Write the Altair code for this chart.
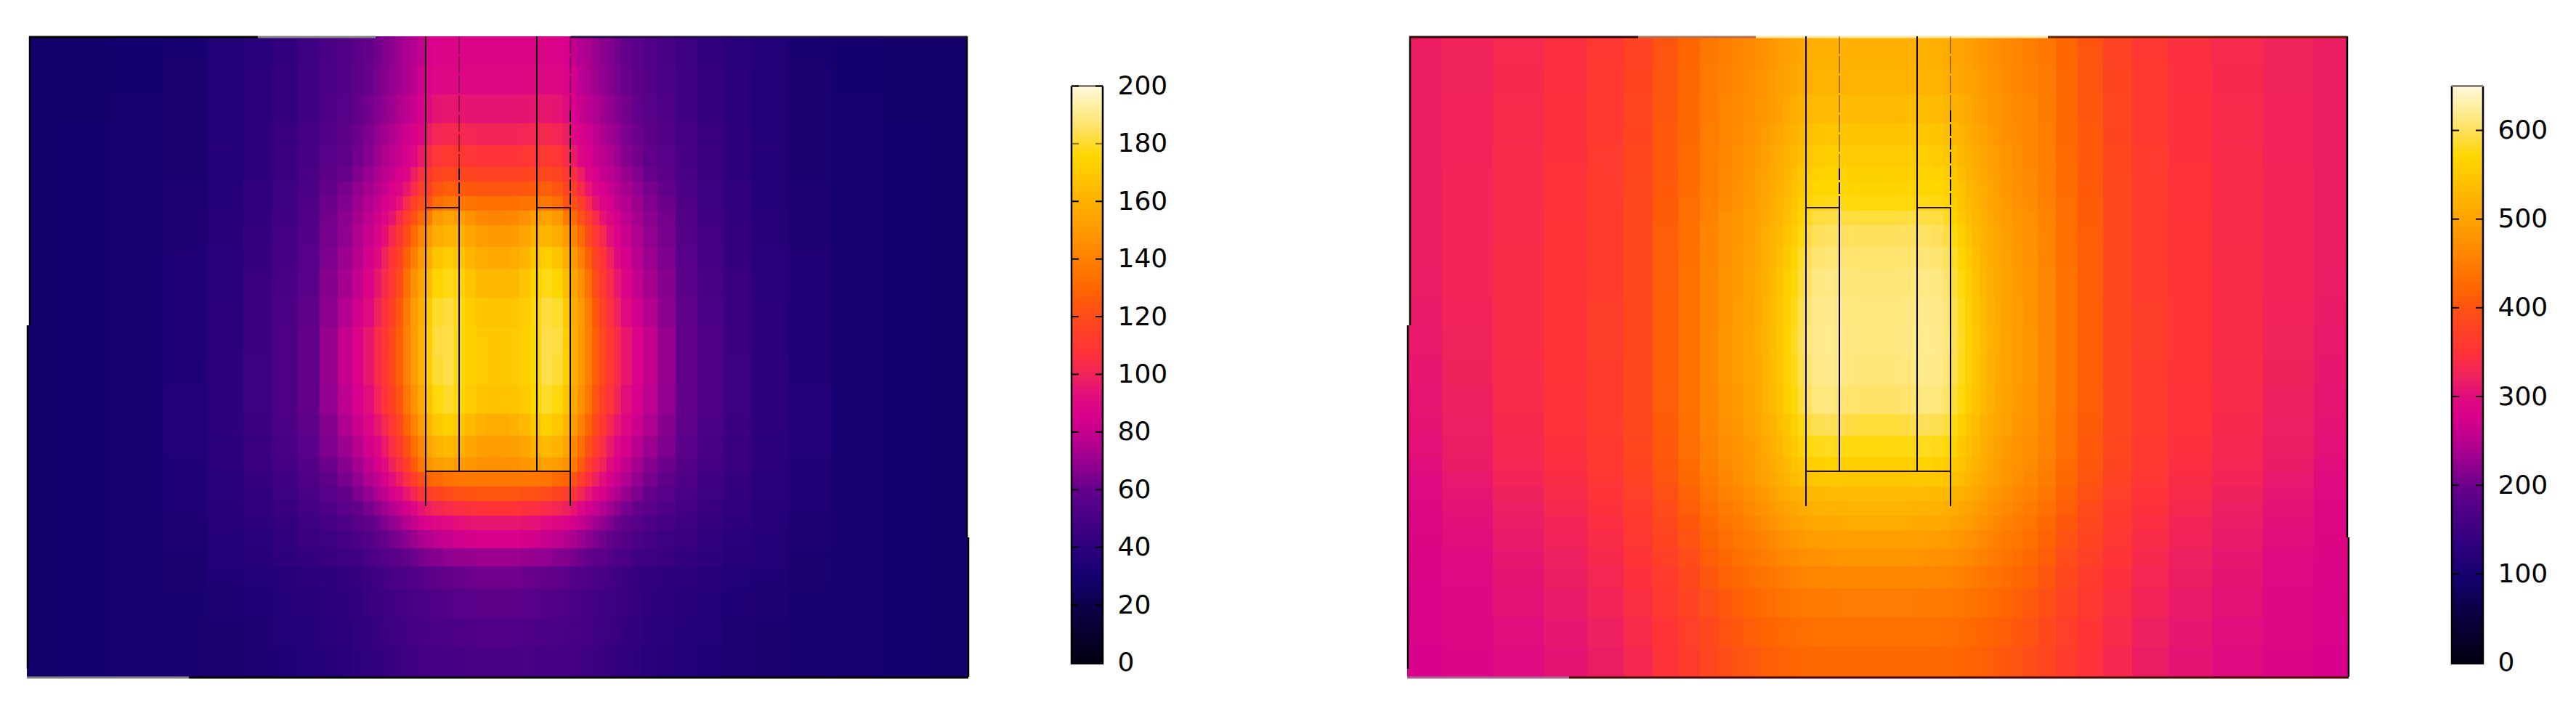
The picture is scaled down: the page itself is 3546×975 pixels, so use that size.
import altair as alt
import pandas as pd

# Half-grid read from the (left/right symmetric) picture: distance from the centre axis, depth from top
OFFSET_EDGES = [0,15,30,45,60,75,90,100,110,120,130,140,150,160,170,185,200,220,245,275,310,350,400,460,530,600,648]
DEPTH_EDGES = [0,40,80,120,150,180,200,220,240,260,290,320,360,400,440,480,520,550,580,600,620,640,660,680,705,730,760,800,840,882]

HEAT_LEFT = [
[88,88,88,88,88,87,85,80,76,74,71,68,66,63,60,57,54,51,47,43,39,36,32,30,29,29],
[90,90,90,90,90,89,87,83,78,75,72,69,67,64,61,58,55,52,48,44,40,36,33,30,29,29],
[95,95,95,96,96,95,92,85,81,78,75,72,69,66,63,60,56,53,48,44,40,36,33,31,29,29],
[101,101,102,103,103,102,98,90,86,83,79,75,72,69,65,62,58,54,49,45,41,36,33,31,30,29],
[108,108,109,110,111,109,104,97,90,85,81,78,75,71,67,63,59,56,50,46,41,37,33,31,30,29],
[116,116,117,118,119,117,110,106,98,90,85,81,78,74,70,66,61,58,51,46,41,37,33,31,30,29],
[124,124,125,126,127,124,116,114,104,96,89,85,81,77,73,69,64,60,52,47,42,37,34,31,30,29],
[134,134,135,136,137,133,122,122,114,104,95,89,85,80,76,71,66,62,53,47,42,37,34,31,30,29],
[142,143,146,152,154,150,138,132,122,113,104,95,89,84,78,73,68,63,54,48,43,38,34,31,30,29],
[150,151,155,160,162,158,150,142,132,120,110,103,94,87,81,75,69,64,55,49,44,38,34,31,30,29],
[157,158,162,168,172,168,158,150,140,128,116,108,100,92,84,77,71,65,56,50,44,39,35,32,30,29],
[163,164,168,174,178,175,165,155,146,134,120,111,104,96,88,80,73,67,57,51,45,39,35,32,30,29],
[168,169,172,177,182,180,170,159,150,138,125,115,107,100,92,83,76,68,59,52,46,40,35,32,30,29],
[170,171,173,177,183,182,172,160,150,140,128,118,110,104,96,87,80,70,60,53,46,40,35,32,30,29],
[170,171,173,177,183,181,172,160,150,140,128,118,111,104,96,87,80,70,60,53,47,41,35,32,30,29],
[167,168,171,176,180,177,168,157,147,136,124,115,108,101,93,85,78,69,60,53,47,41,36,32,30,29],
[158,160,164,169,173,170,162,151,141,130,119,110,103,96,89,82,75,67,59,52,46,41,36,32,30,29],
[151,152,155,160,164,161,154,143,133,122,112,105,97,90,84,77,71,65,57,51,45,40,36,32,30,29],
[146,146,148,151,153,151,146,137,126,115,106,100,92,86,79,73,67,62,55,50,45,40,35,32,30,29],
[137,137,137,136,135,132,129,122,114,106,99,93,86,80,75,69,64,59,53,48,44,39,35,32,30,29],
[124,124,123,122,120,117,113,108,102,96,90,85,79,75,70,65,60,56,51,47,43,39,35,32,30,29],
[108,108,107,106,104,102,99,95,89,84,80,76,72,68,64,60,57,53,49,45,42,38,35,32,30,29],
[96,96,95,94,92,90,87,84,80,76,72,69,66,62,59,56,53,50,47,44,41,38,34,32,30,29],
[85,85,84,83,81,79,76,74,71,68,65,63,60,58,55,52,50,47,45,42,39,37,34,32,30,29],
[71,71,70,70,69,67,66,64,62,60,58,57,55,53,51,48,47,45,43,41,38,36,33,31,30,29],
[63,63,62,61,60,59,57,55,54,53,52,51,49,48,46,44,43,41,40,38,36,35,33,31,30,29],
[58,58,57,56,55,54,53,52,51,50,49,48,47,46,45,43,41,40,38,37,35,34,32,31,30,29],
[54,54,53,53,52,52,51,50,50,49,48,47,46,45,43,42,40,39,37,36,34,33,32,31,30,29],
[51,51,51,50,50,50,49,49,48,47,46,45,44,43,42,41,39,38,36,35,34,33,32,31,30,29],
]

HEAT_RIGHT = [
[520,520,520,520,520,518,512,506,501,495,489,482,476,471,466,460,455,444,422,402,378,358,345,335,326,320],
[524,524,524,524,524,522,516,511,506,500,494,487,480,475,469,463,458,447,424,404,380,360,346,336,326,320],
[534,534,535,536,536,534,528,522,515,508,500,492,485,479,473,466,460,449,426,405,381,361,347,337,327,320],
[545,545,546,548,548,546,540,533,524,515,506,498,491,483,476,469,462,451,428,407,382,362,348,337,327,320],
[555,555,556,558,558,556,550,541,531,521,512,503,495,487,479,471,464,452,429,408,383,363,348,338,327,320],
[562,562,563,565,566,564,558,548,537,527,517,508,499,491,482,474,466,454,430,409,384,364,349,338,328,320],
[568,568,569,571,572,570,564,553,542,531,521,512,503,494,485,476,468,455,431,410,385,365,350,339,328,320],
[575,575,576,578,579,577,570,558,546,535,525,515,506,496,488,478,470,456,432,411,386,365,350,339,328,320],
[590,590,591,593,593,592,582,566,552,540,528,518,508,499,491,482,475,459,433,411,386,366,351,339,328,320],
[600,600,601,602,603,600,592,576,560,546,533,522,512,502,493,484,476,460,434,412,387,366,351,339,328,320],
[606,606,607,608,610,608,600,585,568,553,539,527,516,506,496,486,478,461,435,413,387,367,351,340,328,319],
[610,610,611,613,616,614,606,592,575,559,544,531,519,508,498,488,479,462,436,413,388,367,352,340,328,318],
[613,613,614,616,619,618,610,597,580,563,548,534,522,511,500,490,480,463,437,414,388,368,352,340,327,316],
[613,613,615,617,620,619,612,599,582,565,550,536,523,512,501,491,481,463,437,414,388,368,352,340,326,314],
[611,611,613,616,619,617,610,597,580,564,549,535,522,511,501,491,481,463,437,414,388,367,351,339,325,312],
[604,604,606,610,614,612,604,591,575,560,545,532,520,509,499,489,480,462,436,413,387,366,350,338,323,310],
[590,590,592,596,599,597,590,578,563,549,536,524,514,504,495,485,477,460,434,411,385,364,349,336,321,308],
[576,576,577,579,581,579,574,565,553,541,529,518,508,498,489,480,472,457,432,409,383,362,347,334,319,305],
[562,562,563,564,565,563,559,552,543,533,523,513,503,494,485,477,469,454,429,406,380,359,344,331,316,302],
[551,551,551,552,552,550,547,541,534,526,517,507,498,490,481,473,464,450,425,402,376,356,341,328,313,299],
[536,536,536,536,535,533,530,524,518,512,505,497,489,482,473,465,456,442,418,396,371,351,337,324,310,296],
[525,525,525,524,523,521,517,512,507,501,494,487,480,473,466,458,449,435,412,390,367,348,334,321,307,293],
[512,512,512,511,510,508,505,500,495,490,484,477,471,464,458,450,441,428,406,385,362,344,330,318,304,291],
[497,497,496,495,494,492,490,486,482,478,472,466,460,455,449,442,433,420,399,379,357,340,327,315,302,289],
[483,483,482,481,480,478,476,473,470,466,461,456,451,446,441,434,425,412,392,373,352,336,323,312,299,287],
[465,465,465,464,463,461,460,458,456,452,448,444,440,436,431,425,417,404,385,367,348,332,320,309,297,285],
[451,451,451,450,449,448,447,445,443,440,437,433,430,426,422,416,408,396,378,361,343,328,316,306,294,283],
[438,438,438,437,437,436,435,433,431,429,426,423,420,416,412,406,399,388,371,355,338,323,312,302,291,281],
[428,428,428,428,427,426,425,424,422,420,418,415,412,409,405,400,393,383,366,350,334,319,308,298,288,279],
]

# Colour map: stops on the 0-200 bar, the right bar is the same ramp stretched to 0-650
CMAP_STOPS = [0,20,30,40,60,75,85,92,100,108,120,130,140,150,160,176,185,192,200]
CMAP_COLORS = ["#000010","#0c0048","#15006f","#2a007c","#62008c","#b00090","#d8008c","#e00a80","#f0225c","#ff3338",
               "#ff4a1a","#ff6600","#ff8000","#ff9a00","#ffb000","#ffd700","#ffe060","#ffee9a","#fff8dc"]
LEFT_MAX, RIGHT_MAX = 200, 650
LEFT_TICKS = [0,20,40,60,80,100,120,140,160,180,200]
RIGHT_TICKS = [0,100,200,300,400,500,600]

# Cell outlines: (x, y0, y1) vertical, (y, x0, x1) horizontal
CELL_SOLID_V = [(-99,0,647),(54,0,599),(-53,236,599),(100,236,647)]
CELL_DASH_V = [(-53,182,236),(100,102,236)]
CELL_FAINT_V = [(-53,0,182),(100,0,102)]
CELL_H = [(236,-99,-53),(236,54,100),(599,-99,100)]
FRAME_V = [(-644,0,398),(-647,398,871),(646,0,690),(648,690,882)]
WHITE_V = [(-646.5,0,398,3),(647.5,0,690,2)]
FRAME_H_LEFT = [(1,-645,-330,"#000000"),(1,-330,-168,"#808080"),(1,101,646,"#201040"),
                (883,-648,-425,"#808080"),(883,-425,648,"#000000")]
FRAME_H_RIGHT = [(1,-645,-330,"#300000"),(1,-330,-168,"#b87050"),(1,-168,234,"#ffe8a0"),(1,234,646,"#602000"),
                 (883,-648,-425,"#b06090"),(883,-425,648,"#500000")]


def heat_panel(grid, color_domain, frame_h):
    assert len(grid) == len(DEPTH_EDGES) - 1
    rows = []
    for i, row in enumerate(grid):
        assert len(row) == len(OFFSET_EDGES) - 1
        for j, v in enumerate(row):
            a, b = OFFSET_EDGES[j], OFFSET_EDGES[j + 1]
            for x0, x1 in ((a, b), (-b, -a)):
                rows.append(dict(x0=x0, x1=x1, y0=DEPTH_EDGES[i], y1=DEPTH_EDGES[i + 1], v=v))
    xs = alt.Scale(domain=[-648, 648], nice=False, zero=False)
    ys = alt.Scale(domain=[884, 0], nice=False, zero=False)
    X = lambda f: alt.X(f, type="quantitative", scale=xs, axis=None)
    Y = lambda f: alt.Y(f, type="quantitative", scale=ys, axis=None)

    heat = alt.Chart(pd.DataFrame(rows)).mark_rect(strokeWidth=0).encode(
        x=X("x0"), x2="x1", y=Y("y0"), y2="y1",
        color=alt.Color("v:Q", legend=None,
                        scale=alt.Scale(domain=color_domain, range=CMAP_COLORS, interpolate="rgb", clamp=True)),
    )

    def vrule(segs, **kw):
        df = pd.DataFrame(segs, columns=["x", "a", "b"])
        return alt.Chart(df).mark_rule(**kw).encode(x=X("x"), y=Y("a"), y2="b")

    white = alt.Chart(pd.DataFrame(WHITE_V, columns=["x", "a", "b", "w"])).mark_rule(color="white").encode(
        x=X("x"), y=Y("a"), y2="b", strokeWidth=alt.StrokeWidth("w:Q", scale=None))
    frame_v = vrule(FRAME_V, color="black", strokeWidth=2.5)
    frame_top = alt.Chart(pd.DataFrame(frame_h, columns=["y", "a", "b", "c"])).mark_rule(strokeWidth=3).encode(
        y=Y("y"), x=X("a"), x2="b", color=alt.Color("c:N", scale=None))
    solid = vrule(CELL_SOLID_V, color="black", strokeWidth=2)
    dash = vrule(CELL_DASH_V, color="black", strokeWidth=2, strokeDash=[16, 3])
    faint = vrule(CELL_FAINT_V, color="black", strokeWidth=2, strokeDash=[24, 3], opacity=0.35)
    cell_h = alt.Chart(pd.DataFrame(CELL_H, columns=["y", "a", "b"])).mark_rule(
        color="#301000", strokeWidth=2).encode(y=Y("y"), x=X("a"), x2="b")
    return alt.layer(heat, white, frame_v, frame_top, faint, dash, solid, cell_h).properties(width=1296, height=884)


def colorbar(vmax, ticks, dim_ticks):
    unit = 3.97 * LEFT_MAX / vmax  # pixels per unit on this bar
    top = vmax + 68.5 / unit
    bottom = -21.5 / unit
    ys = alt.Scale(domain=[bottom, top], nice=False, zero=False)
    xs = alt.Scale(domain=[0, 43], nice=False, zero=False)
    y_axis = alt.Axis(orient="right", values=ticks, domain=False, ticks=False, grid=False, title=None,
                      labelPadding=20, labelFont="DejaVu Sans", labelFontSize=36, labelColor="black",
                      labelOverlap=False, labelFlush=False)
    Yb = lambda f: alt.Y(f, type="quantitative", scale=ys, axis=y_axis)
    Xb = lambda f: alt.X(f, type="quantitative", scale=xs, axis=None)
    stops = [alt.GradientStop(offset=s / LEFT_MAX, color=c) for s, c in zip(CMAP_STOPS, CMAP_COLORS)]
    bar_low = -2.5 / unit
    bar = alt.Chart(pd.DataFrame([dict(a=0, b=43, lo=bar_low, hi=vmax)])).mark_rect(
        fill=alt.Gradient(gradient="linear", stops=stops, x1=0, x2=0, y1=1, y2=0), strokeWidth=0,
    ).encode(x=Xb("a"), x2="b", y=Yb("lo"), y2="hi")
    sides = alt.Chart(pd.DataFrame([dict(x=0, lo=bar_low, hi=vmax), dict(x=43, lo=bar_low, hi=vmax)])).mark_rule(
        color="black", strokeWidth=2.5).encode(x=Xb("x"), y=Yb("lo"), y2="hi")
    cap = alt.Chart(pd.DataFrame([dict(a=0, b=43, v=vmax)])).mark_rule(color="#8a8678", strokeWidth=3).encode(
        x=Xb("a"), x2="b", y=Yb("v"))
    tick_rows = []
    for t in ticks:
        if t == 0:
            continue
        o = 0.45 if t in dim_ticks else 1.0
        tick_rows += [dict(a=0, b=10, v=t, o=o), dict(a=33, b=43, v=t, o=o)]
    tick_marks = alt.Chart(pd.DataFrame(tick_rows)).mark_rule(color="black", strokeWidth=2).encode(
        x=Xb("a"), x2="b", y=Yb("v"), opacity=alt.Opacity("o:Q", scale=None))
    return alt.layer(bar, sides, cap, tick_marks).properties(width=43, height=884)


left = heat_panel(HEAT_LEFT, CMAP_STOPS, FRAME_H_LEFT)
right = heat_panel(HEAT_RIGHT, [s * RIGHT_MAX / LEFT_MAX for s in CMAP_STOPS], FRAME_H_RIGHT)
bar_l = colorbar(LEFT_MAX, LEFT_TICKS, [180])
bar_r = colorbar(RIGHT_MAX, RIGHT_TICKS, [])
spacer = alt.Chart(pd.DataFrame([dict(a=0)])).mark_rule(opacity=0).encode(x=alt.value(0)).properties(width=135, height=884)

chart = alt.hconcat(left, bar_l, spacer, right, bar_r, spacing=142, bounds="flush").resolve_scale(
    color="independent", x="independent", y="independent"
).properties(
    padding={"left": 27, "top": 40, "right": 30, "bottom": 0}, background="white"
).configure_view(stroke=None)

chart.save("out.html", embed_options={"renderer": "svg", "actions": False})
